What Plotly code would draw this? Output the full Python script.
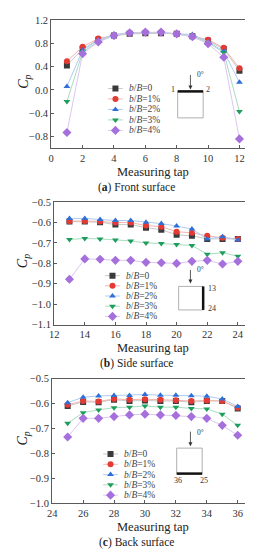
import plotly.graph_objects as go

W, H = 253, 550

# ---------------- data ----------------
series_labels = ["<i>b</i>/<i>B</i>=0", "<i>b</i>/<i>B</i>=1%", "<i>b</i>/<i>B</i>=2%",
                 "<i>b</i>/<i>B</i>=3%", "<i>b</i>/<i>B</i>=4%"]
marker_colors = ["#3a3a3a", "#e53a33", "#2f6fd6", "#1e9e5c", "#a56fdc"]
line_colors = ["#c9c9c9", "#f4b4b0", "#aecbf2", "#a9dcc0", "#dcc6f3"]
symbols = ["square", "circle", "triangle-up", "triangle-down", "diamond"]

taps_front = [1, 2, 3, 4, 5, 6, 7, 8, 9, 10, 11, 12]
front_0 = [0.42, 0.70, 0.86, 0.93, 0.96, 0.97, 0.97, 0.96, 0.92, 0.84, 0.70, 0.33]
front_1 = [0.49, 0.74, 0.88, 0.93, 0.97, 0.98, 0.98, 0.96, 0.92, 0.86, 0.72, 0.37]
front_2 = [0.06, 0.68, 0.85, 0.95, 0.98, 0.98, 0.98, 0.96, 0.95, 0.82, 0.66, 0.13]
front_3 = [-0.20, 0.65, 0.83, 0.93, 0.97, 0.98, 0.98, 0.96, 0.92, 0.81, 0.64, -0.37]
front_4 = [-0.73, 0.62, 0.82, 0.93, 0.98, 0.99, 0.99, 0.96, 0.91, 0.79, 0.56, -0.84]

taps_side = [13, 14, 15, 16, 17, 18, 19, 20, 21, 22, 23, 24]
side_0 = [-0.595, -0.595, -0.598, -0.610, -0.610, -0.625, -0.635, -0.660, -0.665, -0.680, -0.680, -0.680]
side_1 = [-0.593, -0.592, -0.595, -0.600, -0.600, -0.615, -0.620, -0.645, -0.650, -0.665, -0.675, -0.680]
side_2 = [-0.580, -0.580, -0.585, -0.590, -0.590, -0.598, -0.605, -0.617, -0.632, -0.680, -0.670, -0.685]
side_3 = [-0.683, -0.678, -0.680, -0.685, -0.690, -0.700, -0.702, -0.708, -0.712, -0.755, -0.748, -0.765]
side_4 = [-0.878, -0.778, -0.780, -0.785, -0.785, -0.795, -0.797, -0.800, -0.790, -0.785, -0.803, -0.790]

taps_back = [25, 26, 27, 28, 29, 30, 31, 32, 33, 34, 35, 36]
back_0 = [-0.610, -0.594, -0.595, -0.585, -0.590, -0.588, -0.590, -0.590, -0.595, -0.590, -0.590, -0.620]
back_1 = [-0.605, -0.590, -0.592, -0.582, -0.585, -0.583, -0.585, -0.587, -0.590, -0.588, -0.590, -0.617]
back_2 = [-0.597, -0.575, -0.570, -0.568, -0.568, -0.564, -0.567, -0.567, -0.569, -0.571, -0.582, -0.612]
back_3 = [-0.680, -0.637, -0.626, -0.617, -0.615, -0.610, -0.615, -0.615, -0.620, -0.622, -0.643, -0.688]
back_4 = [-0.735, -0.660, -0.660, -0.653, -0.646, -0.643, -0.646, -0.648, -0.653, -0.660, -0.688, -0.728]

front_ticks = [-0.8, -0.4, 0.0, 0.4, 0.8, 1.2]
side_ticks = [-1.1, -1.0, -0.9, -0.8, -0.7, -0.6, -0.5]
back_ticks = [-1.0, -0.9, -0.8, -0.7, -0.6, -0.5]

panels = [
    dict(taps=taps_front, vals=[front_0, front_1, front_2, front_3, front_4],
         xr=[0, 13], xt=[0, 2, 4, 6, 8, 10, 12], yr=[-1.0, 1.2], yt=front_ticks,
         box=(39, 247, 7, 138), title_y=162, cap_y=178, cap="(<b>a</b>) Front surface",
         leg=(97, 112, 116, 77, 10.7)),
    dict(taps=taps_side, vals=[side_0, side_1, side_2, side_3, side_4],
         xr=[12, 25], xt=[12, 14, 16, 18, 20, 22, 24], yr=[-1.1, -0.5], yt=side_ticks,
         box=(42, 245, 193, 318), title_y=342, cap_y=358, cap="(<b>b</b>) Side surface",
         leg=(94, 109, 113, 268, 10.4)),
    dict(taps=taps_back, vals=[back_0, back_1, back_2, back_3, back_4],
         xr=[24, 37], xt=[24, 26, 28, 30, 32, 34, 36], yr=[-1.0, -0.5], yt=back_ticks,
         box=(40, 245, 373, 500), title_y=524, cap_y=540, cap="(<b>c</b>) Back surface",
         leg=(92, 107, 111, 450, 10.5)),
]

FONT = "'Liberation Serif', 'Times New Roman', 'DejaVu Serif', serif"
AX = "#5a5a5a"

def px(x):
    return x / W

def py(y):
    return 1 - y / H

fig = go.Figure()
layout = dict(
    width=W, height=H, margin=dict(l=0, r=0, t=0, b=0),
    paper_bgcolor="white", plot_bgcolor="rgba(0,0,0,0)",
    showlegend=False, font=dict(family=FONT, color="#333", size=10),
)
annotations = []
shapes = []

def note(txt, x, y, size, xanchor="center", color="#222", angle=0):
    annotations.append(dict(text=txt, x=px(x), y=py(y), xref="paper", yref="paper",
                            xanchor=xanchor, yanchor="middle", showarrow=False,
                            textangle=angle, font=dict(family=FONT, size=size, color=color)))

for i, p in enumerate(panels):
    n = "" if i == 0 else str(i + 1)
    xa, ya = "x" + n, "y" + n
    l, r, t, b = p["box"]
    for k in range(5):
        fig.add_trace(go.Scatter(
            x=p["taps"], y=p["vals"][k], xaxis=xa, yaxis=ya, mode="lines+markers",
            line=dict(color=line_colors[k], width=1),
            marker=dict(symbol=symbols[k], color=marker_colors[k], size=6 if k != 4 else 7,
                        line=dict(width=0)),
        ))
    common = dict(showline=True, mirror=True, linecolor=AX, linewidth=1.2,
                  ticks="inside", ticklen=3, tickcolor=AX, showgrid=False, zeroline=False,
                  tickfont=dict(family=FONT, size=10.5, color="#333"))
    layout["xaxis" + n] = dict(domain=[px(l), px(r)], range=p["xr"], tickvals=p["xt"],
                               anchor=ya, **common)
    layout["yaxis" + n] = dict(domain=[py(b), py(t)], range=p["yr"], tickvals=p["yt"],
                               tickformat=".1f", anchor=xa, **common)
    note("<i>C<sub>p</sub></i>", 11, (t + b) / 2 - 2, 14, angle=-90)
    note("Measuring tap", 143, p["title_y"], 12.5)
    note(p["cap"], 126, p["cap_y"], 11.5)

    # compact legend drawn in the panel's own axes (pixel -> data conversion)
    x0, x1, xt_, y0, dy = p["leg"]
    def dx(xp, l=l, r=r, xr=p["xr"]):
        return xr[0] + (xp - l) / (r - l) * (xr[1] - xr[0])
    def dyv(yp, t=t, b=b, yr=p["yr"]):
        return yr[1] - (yp - t) / (b - t) * (yr[1] - yr[0])
    for k in range(5):
        yy = y0 + k * dy
        fig.add_trace(go.Scatter(
            x=[dx(x0), dx(x1)], y=[dyv(yy), dyv(yy)], xaxis=xa, yaxis=ya, mode="lines",
            line=dict(color=line_colors[k], width=1), hoverinfo="skip"))
        fig.add_trace(go.Scatter(
            x=[dx((x0 + x1) / 2)], y=[dyv(yy)], xaxis=xa, yaxis=ya, mode="markers",
            marker=dict(symbol=symbols[k], color=marker_colors[k], size=6 if k != 4 else 7,
                        line=dict(width=0)), hoverinfo="skip"))
        note(series_labels[k], xt_, yy, 9.5, xanchor="left", color="#444")

# ---------- inset schematics ----------
def rect(x0, y0, x1, y1):
    shapes.append(dict(type="rect", xref="paper", yref="paper", x0=px(x0), x1=px(x1),
                       y0=py(y1), y1=py(y0), line=dict(color="#b0b0b0", width=1)))

def thick(x0, y0, x1, y1):
    shapes.append(dict(type="line", xref="paper", yref="paper", x0=px(x0), x1=px(x1),
                       y0=py(y0), y1=py(y1), line=dict(color="#111", width=2.5)))

def arrow(x, y0, y1):
    annotations.append(dict(x=px(x), y=py(y1), ax=0, ay=-(y1 - y0), xref="paper", yref="paper",
                            axref="pixel", ayref="pixel", text="", showarrow=True,
                            arrowhead=2, arrowsize=1, arrowwidth=0.8, arrowcolor="#333"))

# front
rect(168, 80, 194, 107)
thick(168, 80, 194, 80)
arrow(181, 62, 78)
note("0°", 186, 63, 7.5, "left", "#333")
note("1", 167, 78, 8, "right", "#333")
note("2", 195, 78, 8, "left", "#333")
# side
rect(169, 279, 194, 303)
thick(194, 279, 194, 303)
arrow(181, 261, 276)
note("0°", 186, 262, 7.5, "left", "#333")
note("13", 197, 281, 8, "left", "#333")
note("24", 197, 302, 8, "left", "#333")
# back
rect(167, 444, 193, 470)
thick(167, 470, 193, 470)
arrow(181, 426, 442)
note("0°", 186, 428, 7.5, "left", "#333")
note("36", 168, 477, 8, "center", "#333")
note("25", 195, 477, 8, "center", "#333")

layout["annotations"] = annotations
layout["shapes"] = shapes
fig.update_layout(**layout)
fig.write_html("out.html")
